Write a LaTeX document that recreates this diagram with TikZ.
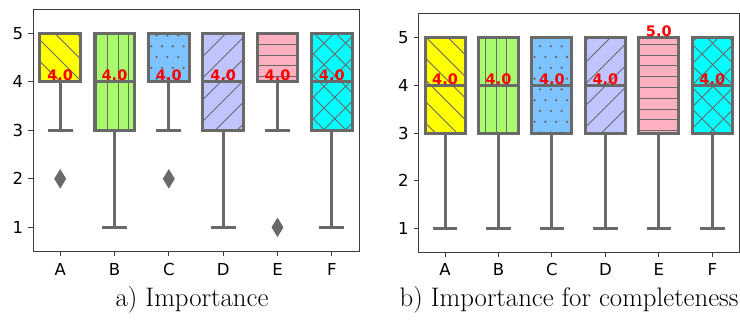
\documentclass[tikz,border=0pt]{standalone}
\usepackage{fontspec}
\newfontfamily\dvsans{DejaVu Sans}
\definecolor{lc}{RGB}{105,105,105}
\definecolor{cA}{RGB}{255,255,0}
\definecolor{cB}{RGB}{170,250,110}
\definecolor{cC}{RGB}{125,195,255}
\definecolor{cD}{RGB}{192,196,255}
\definecolor{cE}{RGB}{255,176,192}
\definecolor{cF}{RGB}{0,255,255}
\definecolor{spc}{RGB}{60,60,60}
\tikzset{
 hl/.style={draw=lc,line width=0.9pt},
 boxline/.style={draw=lc,line width=3pt,line join=miter},
 wline/.style={draw=lc,line width=3pt},
 capline/.style={draw=lc,line width=3pt,line cap=rect},
 spine/.style={draw=spc,line width=1pt},
 tickmark/.style={draw=spc,line width=1pt},
 ticklab/.style={font=\dvsans\fontsize{16.5}{18}\selectfont,inner sep=0pt},
 vallab/.style={font=\dvsans\bfseries\fontsize{14.5}{16}\selectfont,text=red,inner sep=0pt,anchor=base},
 caplab/.style={font=\fontsize{26.8}{30}\selectfont,inner sep=0pt,anchor=base},
 flier/.style={fill=lc,draw=lc,line width=0.8pt,line join=miter},
}
% hatch patterns (drawn inside a clip)
\newcommand\hdiagb{\foreach \k in {-16,...,35}{\draw[hl] ({\k*21.6},0) -- ({\k*21.6+340},340);}}
\newcommand\hdiagf{\foreach \k in {0,...,50}{\draw[hl] ({\k*21.6},0) -- ({\k*21.6-340},340);}}
\newcommand\hvert{\pgfmathtruncatemacro\jmin{\bxl/10.8-1}\pgfmathtruncatemacro\jmax{\bxr/10.8+1}%
 \foreach \k in {\jmin,...,\jmax}{\draw[hl] ({\k*10.8-0.7},0) -- ({\k*10.8-0.7},330);}}
\newcommand\hhorz{\foreach \k in {0,...,30}{\draw[hl] (0,{\k*10.8+1}) -- (740,{\k*10.8+1});}}
\newcommand\hcross{\hdiagb\hdiagf}
\newcommand\hdots{\pgfmathtruncatemacro\jmin{\bxl/10.8-1}\pgfmathtruncatemacro\jmax{\bxr/10.8+1}%
 \pgfmathtruncatemacro\imin{\bxt/10.8-1}\pgfmathtruncatemacro\imax{\bxb/10.8+1}%
 \foreach \i in {\imin,...,\imax}{\foreach \j in {\jmin,...,\jmax}{%
 \fill[lc] ({\j*10.8+mod(\i,2)*5.4},{\i*10.8+3}) circle (1.3);}}}
% box: cx, hw, ytop, ybot, ymed, ywhisker, colour, hatch
\newcommand\drawbx[8]{%
 \pgfmathsetmacro\bxl{#1-#2}\pgfmathsetmacro\bxr{#1+#2}%
 \def\bxt{#3}\def\bxb{#4}%
 \fill[#7] (\bxl,#3) rectangle (\bxr,#4);
 \begin{scope}\clip (\bxl,#3) rectangle (\bxr,#4); #8\end{scope}
 \draw[boxline] (\bxl,#3) rectangle (\bxr,#4);
 \draw[wline] (#1,#4) -- (#1,#6);
 \draw[capline] ({#1-0.535*#2},#6) -- ({#1+0.535*#2},#6);
 \draw[wline] (\bxl,#5) -- (\bxr,#5);
}
\newcommand\flr[2]{\filldraw[flier] (#1,{#2-9}) -- ({#1+5.5},#2) -- (#1,{#2+9}) -- ({#1-5.5},#2) -- cycle;}
\begin{document}
\begin{tikzpicture}[x=1pt,y=-1pt]
\useasboundingbox (0,0) rectangle (740,322);
\fill[white] (0,0) rectangle (740,322);
% ---------- left panel ----------
\drawbx{60.2}{20.4}{33.3}{81.8}{81.8}{130.3}{cA}{\hdiagb}
\drawbx{114.5}{20.4}{33.3}{130.3}{81.8}{227.3}{cB}{\hvert}
\drawbx{168.8}{20.4}{33.3}{81.8}{81.8}{130.3}{cC}{\hdots}
\drawbx{223.2}{20.4}{33.3}{130.3}{81.8}{227.3}{cD}{\hdiagf}
\drawbx{277.5}{20.4}{33.3}{81.8}{81.8}{130.3}{cE}{\hhorz}
\drawbx{331.8}{20.4}{33.3}{130.3}{81.8}{227.3}{cF}{\hcross}
\flr{60.2}{178.8}
\flr{168.8}{178.8}
\flr{277.5}{227.3}
\draw[spine] (33,9.05) rectangle (359,251.55);
\foreach \x/\l/\n in {60.2/A/la,114.5/B/lb,168.8/C/lc,223.2/D/ld,277.5/E/le,331.8/F/lf}{
 \draw[tickmark] (\x,251.55) -- (\x,256.4);
 \node[ticklab,anchor=base] (\n) at (\x,275.6) {\l};}
\foreach \y/\l in {33.3/5,81.8/4,130.3/3,178.8/2,227.3/1}{
 \draw[tickmark] (28.2,\y) -- (33,\y);
 \node[ticklab,anchor=base east] (ly\l) at (23.4,{\y+6}) {\l};}
\foreach \x/\n in {60.2/va,114.5/vb,168.8/vc,223.2/vd,277.5/ve,331.8/vf}{
 \node[vallab] (\n) at (\x,80.8) {4.0};}
% ---------- right panel ----------
\drawbx{445.0}{20.0}{37.4}{133.0}{85.2}{228.6}{cA}{\hdiagb}
\drawbx{498.5}{20.0}{37.4}{133.0}{85.2}{228.6}{cB}{\hvert}
\drawbx{551.9}{20.0}{37.4}{133.0}{85.2}{228.6}{cC}{\hdots}
\drawbx{605.4}{20.0}{37.4}{133.0}{85.2}{228.6}{cD}{\hdiagf}
\drawbx{658.8}{20.0}{37.4}{133.0}{37.4}{228.6}{cE}{\hhorz}
\drawbx{712.3}{20.0}{37.4}{133.0}{85.2}{228.6}{cF}{\hcross}
\draw[spine] (418.3,13.5) rectangle (739,252.5);
\foreach \x/\l/\n in {445.0/A/ra,498.5/B/rb,551.9/C/rc,605.4/D/rd,658.8/E/re,712.3/F/rf}{
 \draw[tickmark] (\x,252.5) -- (\x,257.3);
 \node[ticklab,anchor=base] (\n) at (\x,275.6) {\l};}
\foreach \y/\l in {37.4/5,85.2/4,133.0/3,180.8/2,228.6/1}{
 \draw[tickmark] (413.5,\y) -- (418.3,\y);
 \node[ticklab,anchor=base east] (ry\l) at (408.7,{\y+6}) {\l};}
\foreach \x/\n in {445.0/wa,498.5/wb,551.9/wc,605.4/wd,712.3/wf}{
 \node[vallab] (\n) at (\x,84.2) {4.0};}
\node[vallab] (we) at (658.8,36.4) {5.0};
% ---------- captions ----------
\node[caplab] (capa) at (192,306) {a) Importance};
\node[caplab] (capb) at (569,306) {b) Importance for completeness};
\end{tikzpicture}
\end{document}
